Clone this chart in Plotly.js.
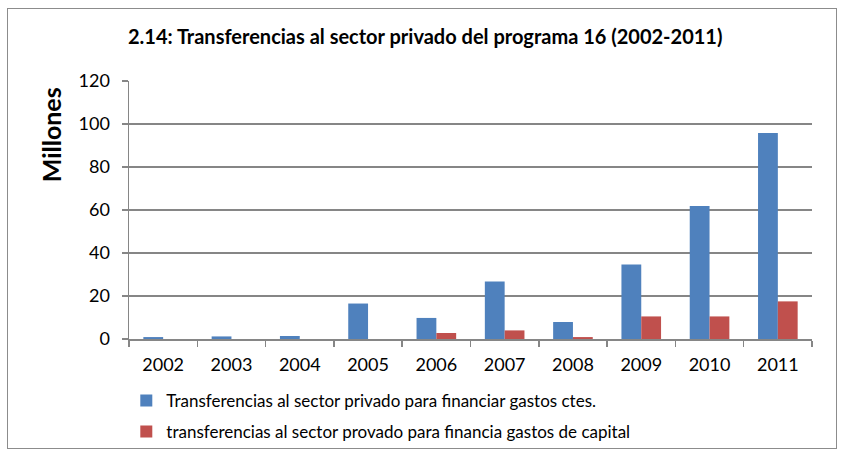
<!DOCTYPE html>
<html><head><meta charset="utf-8">
<script src="https://cdn.plot.ly/plotly-3.0.1.min.js"></script>
<style>
body{margin:0;padding:0;background:#fff;}
#frame{position:absolute;left:7px;top:8px;width:828px;height:439px;border:1.5px solid #8c8c8c;pointer-events:none;z-index:5;}
#chart{position:absolute;left:0;top:0;width:842px;height:453px;}
</style></head>
<body>
<div id="chart"></div>
<div id="frame"></div>
<script>
const years = ['2002','2003','2004','2005','2006','2007','2008','2009','2010','2011'];
const corrientes = [0.9, 1.2, 1.4, 16.5, 9.8, 26.8, 7.9, 34.6, 61.9, 95.8];
const capital = [0, 0, 0, 0, 2.8, 4.0, 0.9, 10.5, 10.5, 17.5];
const yTicks = [0, 20, 40, 60, 80, 100, 120];
const nameCorr = 'Transferencias al sector privado para financiar gastos ctes.';
const nameCap = 'transferencias al sector provado para financia gastos de capital';
const FONT = 'Lato, "Liberation Sans", sans-serif';

const traces = [
  {type:'bar', x:years, y:corrientes, name:nameCorr, marker:{color:'#4F81BD', line:{width:0}}, legend:'legend', hoverinfo:'y'},
  {type:'bar', x:years, y:capital, name:nameCap, marker:{color:'#C0504D', line:{width:0}}, legend:'legend2', hoverinfo:'y'}
];

const layout = {
  width:842, height:453,
  margin:{l:129, r:30, t:81, b:114, autoexpand:false},
  paper_bgcolor:'#fff', plot_bgcolor:'#fff',
  font:{family:FONT, size:16, color:'#000'},
  barmode:'group', bargap:0.42, bargroupgap:0,
  title:{text:'<b>2.14: Transferencias al sector privado del programa 16 (2002-2011)</b>', x:0.505, xanchor:'center', y:0.918, yanchor:'middle', font:{family:FONT, size:20, color:'#000'}},
  xaxis:{type:'category', tickson:'boundaries', ticks:'outside', ticklen:6, tickcolor:'#868686', tickwidth:1.5, showline:true, linecolor:'#868686', linewidth:1.5, showgrid:false, tickfont:{size:18}, ticklabelstandoff:9, fixedrange:true},
  yaxis:{range:[0,120], tickvals:yTicks, ticktext:yTicks.map(String), ticks:'outside', ticklen:6, tickcolor:'#868686', tickwidth:1.5, showline:true, linecolor:'#868686', linewidth:1.5, showgrid:true, gridcolor:'#868686', gridwidth:1.2, zeroline:false, tickfont:{size:18}, ticklabelstandoff:8, fixedrange:true},
  showlegend:true,
  legend:{xref:'container', yref:'container', x:0.15, y:1-401/453, xanchor:'left', yanchor:'middle', font:{size:17}, bgcolor:'rgba(0,0,0,0)', itemwidth:30},
  legend2:{xref:'container', yref:'container', x:0.15, y:1-432/453, xanchor:'left', yanchor:'middle', font:{size:17}, bgcolor:'rgba(0,0,0,0)', itemwidth:30},
  annotations:[{text:'<b>Millones</b>', xref:'paper', yref:'paper', x:-0.114, y:0.79, xanchor:'center', yanchor:'middle', textangle:-90, showarrow:false, font:{family:FONT, size:25, color:'#000'}}]
};
Plotly.newPlot('chart', traces, layout, {displayModeBar:false, staticPlot:true});
</script>
</body></html>
